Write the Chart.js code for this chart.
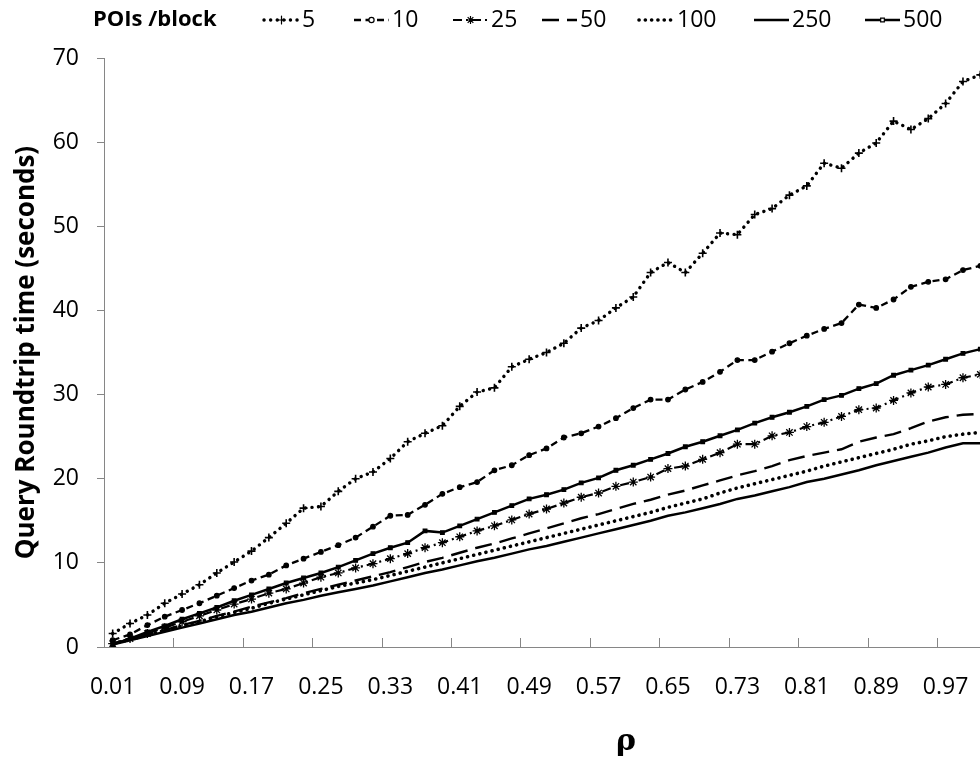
<!DOCTYPE html>
<html>
<head>
<meta charset="utf-8">
<script src="https://cdn.jsdelivr.net/npm/chart.js@4.4.1/dist/chart.umd.min.js"></script>
<style>
  html, body { margin: 0; padding: 0; background: #fff; overflow: hidden; }
  #wrap { position: relative; width: 1000px; height: 759px; }
</style>
</head>
<body>
<div id="wrap"><canvas id="chart"></canvas></div>
<script>
const rhoLabels = ['0.01','0.03','0.05','0.07','0.09','0.11','0.13','0.15','0.17','0.19',
  '0.21','0.23','0.25','0.27','0.29','0.31','0.33','0.35','0.37','0.39',
  '0.41','0.43','0.45','0.47','0.49','0.51','0.53','0.55','0.57','0.59',
  '0.61','0.63','0.65','0.67','0.69','0.71','0.73','0.75','0.77','0.79',
  '0.81','0.83','0.85','0.87','0.89','0.91','0.93','0.95','0.97','0.99','1.01'];

const seriesNames = ['5', '10', '25', '50', '100', '250', '500'];

const poi5 = [1.6,2.8,3.8,5.2,6.3,7.4,8.8,10.1,11.4,13.0,14.7,16.5,16.7,18.5,20.0,20.8,22.4,24.4,25.4,26.3,
  28.6,30.3,30.8,33.3,34.2,35.0,36.1,37.9,38.8,40.3,41.6,44.5,45.7,44.5,46.8,49.2,49.0,51.4,52.1,53.7,
  54.8,57.5,56.9,58.7,59.9,62.5,61.5,62.8,64.6,67.2,68.0];
const poi10 = [0.8,1.5,2.6,3.6,4.4,5.2,6.1,7.0,7.9,8.6,9.7,10.5,11.3,12.1,13.0,14.3,15.6,15.7,16.9,18.2,
  19.0,19.6,21.0,21.6,22.8,23.6,24.9,25.4,26.2,27.2,28.4,29.4,29.4,30.6,31.5,32.7,34.1,34.1,35.1,36.1,
  37.0,37.8,38.5,40.7,40.3,41.3,42.8,43.4,43.7,44.8,45.3];
const poi25 = [0.4,1.0,1.6,2.3,3.0,3.7,4.4,5.1,5.7,6.4,6.9,7.6,8.3,8.8,9.4,9.9,10.5,11.1,11.8,12.4,
  13.1,13.8,14.4,15.1,15.8,16.4,17.1,17.8,18.3,19.1,19.6,20.2,21.2,21.5,22.3,23.1,24.1,24.1,25.1,25.5,
  26.2,26.7,27.4,28.2,28.4,29.3,30.2,30.9,31.2,32.0,32.4];
const poi50 = [0.4,0.9,1.5,2.0,2.6,3.1,3.7,4.2,4.8,5.3,5.8,6.4,6.9,7.4,7.9,8.4,8.9,9.5,10.1,10.6,
  11.2,11.8,12.3,12.9,13.5,14.1,14.7,15.3,15.8,16.4,17.0,17.5,18.1,18.6,19.2,19.8,20.4,20.9,21.5,22.2,
  22.7,23.1,23.5,24.4,24.9,25.3,26.0,26.8,27.3,27.6,27.7];
const poi100 = [0.4,0.9,1.4,2.0,2.5,3.0,3.6,4.1,4.6,5.2,5.7,6.2,6.7,7.2,7.6,8.0,8.5,9.0,9.5,10.0,
  10.5,11.0,11.5,12.0,12.5,13.0,13.5,14.0,14.5,15.0,15.5,16.0,16.6,17.1,17.6,18.3,18.9,19.4,19.9,20.4,
  20.9,21.5,22.0,22.5,23.0,23.5,24.1,24.5,25.0,25.3,25.5];
const poi250 = [0.3,0.8,1.3,1.8,2.3,2.8,3.3,3.8,4.2,4.7,5.2,5.6,6.1,6.5,6.9,7.3,7.8,8.3,8.8,9.2,
  9.7,10.2,10.6,11.1,11.6,12.0,12.5,13.0,13.5,14.0,14.5,15.0,15.6,16.0,16.5,17.0,17.6,18.0,18.5,19.0,
  19.6,20.0,20.5,21.0,21.6,22.1,22.6,23.1,23.7,24.2,24.2];
const poi500 = [0.3,1.0,1.8,2.5,3.3,4.0,4.7,5.5,6.2,6.9,7.6,8.2,8.8,9.5,10.3,11.1,11.8,12.4,13.8,13.6,
  14.4,15.2,16.0,16.8,17.6,18.1,18.7,19.5,20.1,21.0,21.6,22.3,23.0,23.8,24.4,25.1,25.8,26.6,27.3,27.9,
  28.6,29.4,29.9,30.7,31.3,32.3,32.9,33.5,34.2,34.9,35.4];

const yTicks = [0, 10, 20, 30, 40, 50, 60, 70];

const FONT = '"Open Sans", "Noto Sans", sans-serif';
const AXIS_GREY = '#868686';

function line(label, data, style) {
  return Object.assign({
    label: label,
    data: data,
    borderColor: '#000',
    backgroundColor: '#000',
    pointBorderColor: '#000',
    pointBackgroundColor: '#000',
    borderWidth: 2.5,
    borderDash: [],
    borderCapStyle: 'butt',
    pointStyle: 'circle',
    pointRadius: 0,
    pointBorderWidth: 1.2,
    tension: 0,
    fill: false
  }, style);
}

const datasets = [
  line(seriesNames[0], poi5, { borderWidth: 3.4, borderDash: [0.1, 6.5], borderCapStyle: 'round', pointStyle: 'cross', pointRadius: 4, pointBorderWidth: 1.6 }),
  line(seriesNames[1], poi10, { borderWidth: 2.3, borderDash: [7, 4.5], pointStyle: 'circle', pointRadius: 2.3 }),
  line(seriesNames[2], poi25, { borderWidth: 2.2, borderDash: [9, 4, 2, 4], pointStyle: 'star', pointRadius: 4.5, pointBorderWidth: 1.3 }),
  line(seriesNames[3], poi50, { borderWidth: 2.4, borderDash: [17, 8] }),
  line(seriesNames[4], poi100, { borderWidth: 3.6, borderDash: [0.1, 6.2], borderCapStyle: 'round' }),
  line(seriesNames[5], poi250, { borderWidth: 2.5 }),
  line(seriesNames[6], poi500, { borderWidth: 2.5, pointStyle: 'rect', pointRadius: 2.6 })
];

// inline legend, x tick marks inside the plot, axis titles
const decorations = {
  id: 'decorations',
  afterDraw(chart) {
    const ctx = chart.ctx;
    const area = chart.chartArea;

    // x tick marks (inside, every 4 categories, on boundaries)
    const step = (area.right - area.left) / rhoLabels.length;
    ctx.save();
    ctx.strokeStyle = AXIS_GREY;
    ctx.lineWidth = 1;
    for (let i = 0; i <= rhoLabels.length; i += 4) {
      const x = Math.round(area.left + i * step) + 0.5;
      ctx.beginPath();
      ctx.moveTo(x, area.bottom);
      ctx.lineTo(x, area.bottom - 9);
      ctx.stroke();
    }
    ctx.restore();

    // legend
    ctx.save();
    ctx.fillStyle = '#000';
    ctx.textBaseline = 'middle';
    ctx.textAlign = 'left';
    ctx.font = 'bold 22px ' + FONT;
    const ly = 20;
    ctx.fillText('POIs /block', 93, ly);
    ctx.font = '23px ' + FONT;
    const textStarts = [302, 392, 491, 580, 677, 792, 903];
    chart.data.datasets.forEach((ds, i) => {
      const tx = textStarts[i];
      const x0 = tx - 38, x1 = tx - 3;
      ctx.save();
      ctx.strokeStyle = '#000';
      ctx.lineWidth = ds.borderWidth;
      ctx.lineCap = ds.borderCapStyle;
      ctx.setLineDash(ds.borderDash);
      ctx.beginPath();
      ctx.moveTo(x0, ly);
      ctx.lineTo(x1, ly);
      ctx.stroke();
      ctx.setLineDash([]);
      if (ds.pointRadius > 0) {
        ctx.fillStyle = '#fff';
        ctx.strokeStyle = '#000';
        ctx.lineWidth = 1.2;
        Chart.helpers.drawPoint(ctx, {
          pointStyle: ds.pointStyle,
          radius: ds.pointStyle === 'circle' || ds.pointStyle === 'rect' ? 2.6 : 4,
          rotation: 0,
          borderWidth: 1.2
        }, (x0 + x1) / 2, ly);
      }
      ctx.restore();
      ctx.fillText(ds.label, tx, ly);
    });

    // y title
    ctx.font = 'bold 26px ' + FONT;
    ctx.textAlign = 'center';
    ctx.translate(27, (area.top + area.bottom) / 2);
    ctx.rotate(-Math.PI / 2);
    ctx.fillText('Query Roundtrip time (seconds)', 0, 0);
    ctx.restore();

    // x title
    ctx.save();
    ctx.fillStyle = '#000';
    ctx.font = 'bold 30px "DejaVu Serif", serif';
    ctx.textAlign = 'center';
    ctx.textBaseline = 'middle';
    ctx.fillText('ρ', 626, 742);
    ctx.restore();
  }
};

new Chart(document.getElementById('chart'), {
  type: 'line',
  data: { labels: rhoLabels, datasets: datasets },
  options: {
    responsive: true,
    maintainAspectRatio: false,
    animation: false,
    layout: { padding: { top: 58, right: 11, bottom: 0, left: 0 } },
    plugins: {
      legend: { display: false },
      tooltip: { enabled: false }
    },
    scales: {
      x: {
        type: 'category',
        offset: true,
        grid: { display: false },
        border: { display: true, color: AXIS_GREY, width: 1 },
        ticks: {
          autoSkip: false,
          maxRotation: 0,
          minRotation: 0,
          padding: 19,
          color: '#000',
          font: { family: FONT, size: 23 },
          callback: function (v, i) { return i % 4 === 0 ? this.getLabelForValue(v) : ''; }
        },
        afterFit(s) { s.height = 112; }
      },
      y: {
        min: yTicks[0],
        max: yTicks[yTicks.length - 1],
        grid: { display: true, drawOnChartArea: false, drawTicks: true, tickLength: 7, color: AXIS_GREY },
        border: { display: true, color: AXIS_GREY, width: 1 },
        ticks: {
          stepSize: 10,
          padding: 18,
          color: '#000',
          font: { family: FONT, size: 23 }
        },
        afterFit(s) { s.width = 104; }
      }
    }
  },
  plugins: [decorations]
});
</script>
</body>
</html>
